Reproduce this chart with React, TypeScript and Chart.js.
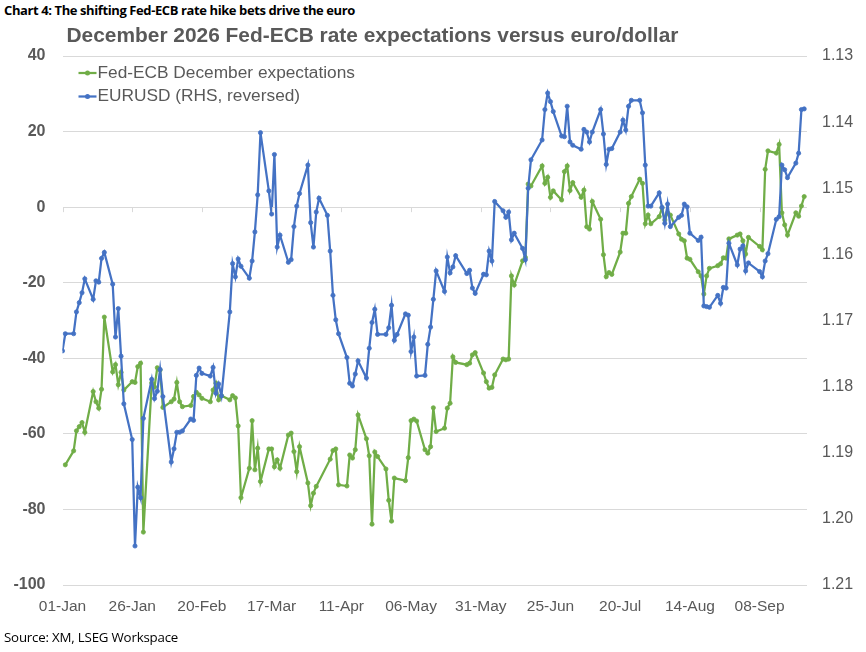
import React, { useEffect, useRef } from "react";
import { Chart, registerables } from "chart.js";

Chart.register(...registerables);

const chartHeading = "Chart 4: The shifting Fed-ECB rate hike bets drive the euro";
const chartTitle = "December 2026 Fed-ECB rate expectations versus euro/dollar";
const sourceNote = "Source: XM, LSEG Workspace";
const seriesNames = ["Fed-ECB December expectations", "EURUSD (RHS, reversed)"];

// x positions: days since 01-Jan
const tickDays = [0, 25, 50, 75, 100, 125, 150, 175, 200, 225, 250];
const tickLabels = ["01-Jan", "26-Jan", "20-Feb", "17-Mar", "11-Apr", "06-May", "31-May", "25-Jun", "20-Jul", "14-Aug", "08-Sep"];
const leftTicks = [-100, -80, -60, -40, -20, 0, 20, 40];
const rightTicks = [1.13, 1.14, 1.15, 1.16, 1.17, 1.18, 1.19, 1.2, 1.21];

const fedDays = [
  1, 4, 5, 6, 7, 8,
  11, 12, 13, 14, 15,
  18, 19, 20, 21, 22,
  25, 26, 27, 28, 29,
  32, 33, 34, 35, 36,
  39, 40, 41, 42, 43,
  46, 47, 48, 49, 50,
  53, 54, 55, 56, 57,
  60, 61, 62, 63, 64,
  67, 68, 69, 70, 71,
  74, 75, 76, 77, 78,
  81, 82, 83, 84, 85,
  88, 89, 90, 91,
  96, 97, 98, 99,
  102, 103, 104, 105, 106,
  109, 110, 111, 112, 113,
  116, 117, 118, 119,
  123, 124, 125, 126, 127,
  130, 131, 132, 133, 134,
  137, 138, 139, 140, 141,
  145, 146, 147, 148,
  151, 152, 153, 154, 155,
  158, 159, 160, 161, 162,
  165, 166, 167, 168,
  172, 173, 174, 175, 176,
  179, 180, 181, 182, 183,
  186, 187, 188, 189, 190,
  193, 194, 195, 196, 197,
  200, 201, 202, 203, 204,
  207, 208, 209, 210, 211,
  214, 215, 216, 217, 218,
  221, 222, 223, 224, 225,
  228, 229, 230, 231, 232,
  235, 236, 237, 238, 239,
  242, 243, 244, 245, 246,
  250, 251, 252, 253,
  256, 257, 258, 259, 260,
  263, 264, 265, 266,
];
const fedEcb = [
  -68.2, -64.5, -59.2, -58.1, -57.0, -59.6,
  -48.8, -51.5, -53.2, -48.2, -29.1,
  -43.6, -41.7, -47.0, -43.7, -48.4,
  -46.2, -46.4, -42.2, -41.3, -86.0,
  -46.5, -47.6, -42.5, -43.1, -53.0,
  -51.5, -50.8, -46.4, -51.5, -52.8,
  -52.5, -50.1, -49.0, -49.7, -50.6,
  -51.5, -48.4, -46.6, -51.0, -49.9,
  -51.0, -49.9, -50.5, -57.9, -76.9,
  -69.1, -56.5, -69.5, -63.8, -72.6,
  -64.0, -64.0, -68.7, -66.9, -69.1,
  -60.3, -59.8, -64.7, -70.0, -63.4,
  -73.0, -79.0, -75.7, -73.9,
  -66.7, -64.4, -64.0, -73.5,
  -73.8, -65.6, -66.4, -64.2, -55.0,
  -61.3, -65.8, -83.9, -64.8, -66.0,
  -69.3, -77.6, -83.1, -71.7,
  -72.4, -66.3, -56.5, -56.1, -56.6,
  -64.2, -65.1, -63.4, -53.1, -59.4,
  -58.5, -53.2, -51.9, -39.6, -41.1,
  -41.7, -41.3, -39.1, -38.5,
  -43.9, -46.2, -47.9, -47.7, -44.4,
  -40.2, -40.4, -40.2, -18.2, -20.6,
  -14.2, -13.3, 6.1, 5.6,
  10.9, 6.3, 7.9, 2.6, 4.3,
  1.9, 9.4, 10.9, 4.4, 6.5,
  2.6, 4.5, -5.2, -5.8, 1.5,
  -3.2, -12.6, -18.4, -17.3, -17.8,
  -11.9, -6.9, -6.9, 1.0, 2.8,
  7.4, 6.3, -4.4, -2.1, -4.4,
  -2.5, -0.2, -3.4, -1.5, -2.1,
  -7.1, -8.5, -8.9, -13.5, -13.8,
  -17.1, -18.2, -23.0, -18.2, -16.2,
  -15.5, -15.0, -13.4, -13.5, -8.4,
  -7.4, -7.1, -8.9, -12.4, -8.0,
  -10.4, -11.3, 10.0, 14.9,
  14.3, 16.6, -1.5, -4.7, -7.4,
  -1.5, -2.4, 0.3, 2.8,
];

const eurDays = [
  0, 1, 4, 5, 6, 7, 8,
  11, 12, 13, 14, 15,
  18, 19, 20, 21, 22,
  25, 26, 27, 28, 29,
  32, 33, 34, 35, 36,
  39, 40, 41, 42, 43,
  46, 47, 48, 49, 50,
  53, 54, 55, 56, 57,
  60, 61, 62, 63, 64,
  67, 68, 69, 70, 71,
  74, 75, 76, 77, 78,
  81, 82, 83, 84, 85,
  88, 89, 90, 91, 92,
  95, 96, 97, 98, 99,
  102, 103, 104, 105, 106,
  109, 110, 111, 112, 113,
  116, 117, 118, 119, 120,
  123, 124, 125, 126, 127,
  130, 131, 132, 133, 134,
  137, 138, 139, 140, 141,
  145, 146, 147, 148,
  151, 152, 153, 154, 155,
  158, 159, 160, 161, 162,
  165, 166, 167, 168,
  172, 173, 174, 175, 176,
  179, 180, 181, 182, 183,
  186, 187, 188, 189, 190,
  193, 194, 195, 196, 197,
  200, 201, 202, 203, 204,
  207, 208, 209, 210, 211,
  214, 215, 216, 217, 218,
  221, 222, 223, 224, 225,
  228, 229, 230, 231, 232,
  235, 236, 237, 238, 239,
  242, 243, 244, 245, 246,
  250, 251, 252, 253,
  256, 257, 258, 259, 260,
  263, 264, 265, 266,
];
const eurusd = [
  1.1746, 1.172, 1.172, 1.1687, 1.1673, 1.1658, 1.1637,
  1.1668, 1.164, 1.1642, 1.1606, 1.1597,
  1.1645, 1.1725, 1.1682, 1.1754, 1.1826,
  1.188, 1.2041, 1.1952, 1.1968, 1.1848,
  1.1789, 1.1818, 1.1807, 1.1774, 1.1815,
  1.1914, 1.1894, 1.1869, 1.1869, 1.1867,
  1.1849, 1.1851, 1.1783, 1.1772, 1.178,
  1.1784, 1.1771, 1.181, 1.1796, 1.1814,
  1.1687, 1.1614, 1.1634, 1.1607, 1.1618,
  1.1636, 1.161, 1.1566, 1.151, 1.1416,
  1.1504, 1.1539, 1.1449, 1.1589, 1.1571,
  1.1612, 1.1608, 1.1558, 1.1527, 1.1508,
  1.1465, 1.1552, 1.1589, 1.1536, 1.1515,
  1.1541, 1.1595, 1.1662, 1.1699, 1.172,
  1.1756, 1.1795, 1.1799, 1.1781, 1.1761,
  1.1787, 1.1742, 1.1703, 1.1683, 1.1721,
  1.1721, 1.1711, 1.1677, 1.173, 1.1721,
  1.169, 1.1692, 1.1747, 1.1725, 1.1784,
  1.1783, 1.1736, 1.171, 1.1668, 1.1625,
  1.1656, 1.1604, 1.1628, 1.1619, 1.1602,
  1.1629, 1.1624, 1.1651, 1.1659,
  1.163, 1.1631, 1.1595, 1.161, 1.152,
  1.1534, 1.1544, 1.1536, 1.1578, 1.1568,
  1.1591, 1.1608, 1.15, 1.1457,
  1.1427, 1.1381, 1.1356, 1.1369, 1.1384,
  1.1421, 1.1422, 1.1376, 1.143, 1.1435,
  1.1441, 1.1411, 1.1415, 1.143, 1.1415,
  1.1381, 1.1418, 1.1464, 1.1441, 1.144,
  1.1415, 1.1397, 1.1412, 1.1376, 1.1367,
  1.1367, 1.1386, 1.1465, 1.1527, 1.1527,
  1.1507, 1.1529, 1.1553, 1.1524, 1.1558,
  1.1544, 1.1541, 1.1524, 1.1528, 1.1568,
  1.1579, 1.1574, 1.1678, 1.1679, 1.168,
  1.1662, 1.1674, 1.165, 1.1651, 1.1583,
  1.1616, 1.1592, 1.1587, 1.1625, 1.1613,
  1.1626, 1.1634, 1.161, 1.1599,
  1.1547, 1.1543, 1.1465, 1.1472, 1.1484,
  1.1462, 1.1447, 1.1381, 1.138,
];

const GREEN = "#70ad47";
const BLUE = "#4472c4";
const TEXT = "#595959";
const GRID = "#d9d9d9";
const FONT = "'Liberation Sans', Arial, sans-serif";

const overlayPlugin = {
  id: "overlay",
  afterDraw(chart: any) {
    const { ctx, chartArea, scales } = chart;
    ctx.save();
    // small tick marks on the zero line (horizontal axis crosses at 0)
    const y0 = scales.y.getPixelForValue(0);
    ctx.strokeStyle = GRID;
    ctx.lineWidth = 1;
    tickDays.forEach((d) => {
      const x = Math.round(scales.x.getPixelForValue(d)) + 0.5;
      ctx.beginPath();
      ctx.moveTo(x, y0);
      ctx.lineTo(x, y0 + 5);
      ctx.stroke();
    });
    // title
    ctx.fillStyle = TEXT;
    ctx.font = `bold 20.9px ${FONT}`;
    ctx.textAlign = "left";
    ctx.textBaseline = "middle";
    ctx.fillText(chartTitle, chartArea.left + 4, 36);
    // legend inside plot
    chart.data.datasets.forEach((ds: any, i: number) => {
      const y = 73 + i * 23.5;
      const x0 = chartArea.left + 16;
      ctx.strokeStyle = ds.borderColor;
      ctx.lineWidth = 2.25;
      ctx.beginPath();
      ctx.moveTo(x0, y);
      ctx.lineTo(x0 + 18, y);
      ctx.stroke();
      ctx.fillStyle = ds.borderColor;
      ctx.beginPath();
      ctx.arc(x0 + 9, y, 2.5, 0, Math.PI * 2);
      ctx.fill();
      ctx.fillStyle = TEXT;
      ctx.font = `17.3px ${FONT}`;
      ctx.fillText(ds.label, x0 + 19, y);
    });
    ctx.restore();
  },
};

export default function App() {
  const canvasRef = useRef<HTMLCanvasElement | null>(null);

  useEffect(() => {
    document.body.style.margin = "0";
    const canvas = canvasRef.current;
    if (!canvas) return;
    const chart = new Chart(canvas, {
      type: "line",
      data: {
        datasets: [
          {
            label: seriesNames[0],
            data: fedDays.map((d, i) => ({ x: d, y: fedEcb[i] })),
            yAxisID: "y",
            borderColor: GREEN,
            backgroundColor: GREEN,
            pointBackgroundColor: GREEN,
            pointBorderColor: GREEN,
            borderWidth: 2.25,
            pointRadius: 2.1,
            pointBorderWidth: 0.8,
            tension: 0,
            order: 2,
          },
          {
            label: seriesNames[1],
            data: eurDays.map((d, i) => ({ x: d, y: eurusd[i] })),
            yAxisID: "y1",
            borderColor: BLUE,
            backgroundColor: BLUE,
            pointBackgroundColor: BLUE,
            pointBorderColor: BLUE,
            borderWidth: 2.25,
            pointRadius: 2.1,
            pointBorderWidth: 0.8,
            tension: 0,
            order: 1,
          },
        ],
      },
      options: {
        animation: false,
        responsive: true,
        maintainAspectRatio: false,
        devicePixelRatio: 1,
        layout: { padding: { top: 56, left: 0, right: 0, bottom: 0 } },
        plugins: {
          legend: { display: false },
          tooltip: { enabled: false },
          title: { display: false },
        },
        scales: {
          x: {
            type: "linear",
            min: 0,
            max: 267,
            grid: { display: false, drawTicks: false },
            border: { display: false },
            afterBuildTicks: (s: any) => {
              s.ticks = tickDays.map((v) => ({ value: v }));
            },
            afterFit: (s: any) => {
              s.height = 45;
            },
            ticks: {
              autoSkip: false,
              maxRotation: 0,
              padding: 12,
              color: TEXT,
              font: { family: FONT, size: 15.5 },
              callback: (v: any) => {
                const i = tickDays.indexOf(Number(v));
                return i >= 0 ? tickLabels[i] : "";
              },
            },
          },
          y: {
            position: "left",
            min: -100,
            max: 40,
            grid: { color: GRID, lineWidth: 1, drawTicks: false },
            border: { display: false },
            afterBuildTicks: (s: any) => {
              s.ticks = leftTicks.map((v) => ({ value: v }));
            },
            afterFit: (s: any) => {
              s.width = 62.5;
            },
            ticks: {
              padding: 17,
              color: TEXT,
              font: { family: FONT, size: 16, weight: "bold" },
            },
          },
          y1: {
            position: "right",
            min: 1.13,
            max: 1.21,
            reverse: true,
            grid: { display: false, drawTicks: false },
            border: { display: false },
            afterBuildTicks: (s: any) => {
              s.ticks = rightTicks.map((v) => ({ value: v }));
            },
            afterFit: (s: any) => {
              s.width = 59;
            },
            ticks: {
              padding: 15,
              color: TEXT,
              font: { family: FONT, size: 16 },
              callback: (v: any) => Number(v).toFixed(2),
            },
          },
        },
      },
      plugins: [overlayPlugin],
    } as any);
    return () => chart.destroy();
  }, []);

  return (
    <div style={{ position: "relative", width: 866, height: 652, background: "#fff", overflow: "hidden" }}>
      <div
        style={{
          position: "absolute",
          left: 4,
          top: 1,
          fontFamily: "'Open Sans', 'Liberation Sans', sans-serif",
          fontWeight: 700,
          fontSize: 13,
          color: "#000",
          whiteSpace: "nowrap",
          letterSpacing: -0.4,
        }}
      >
        {chartHeading}
      </div>
      <div style={{ position: "absolute", left: 0, top: 0, width: 866, height: 630 }}>
        <canvas ref={canvasRef} />
      </div>
      <div
        style={{
          position: "absolute",
          left: 4,
          top: 628,
          fontFamily: "'Open Sans', 'Liberation Sans', sans-serif",
          fontSize: 13.3,
          color: "#000",
          whiteSpace: "nowrap",
          letterSpacing: -0.2,
        }}
      >
        {sourceNote}
      </div>
    </div>
  );
}
